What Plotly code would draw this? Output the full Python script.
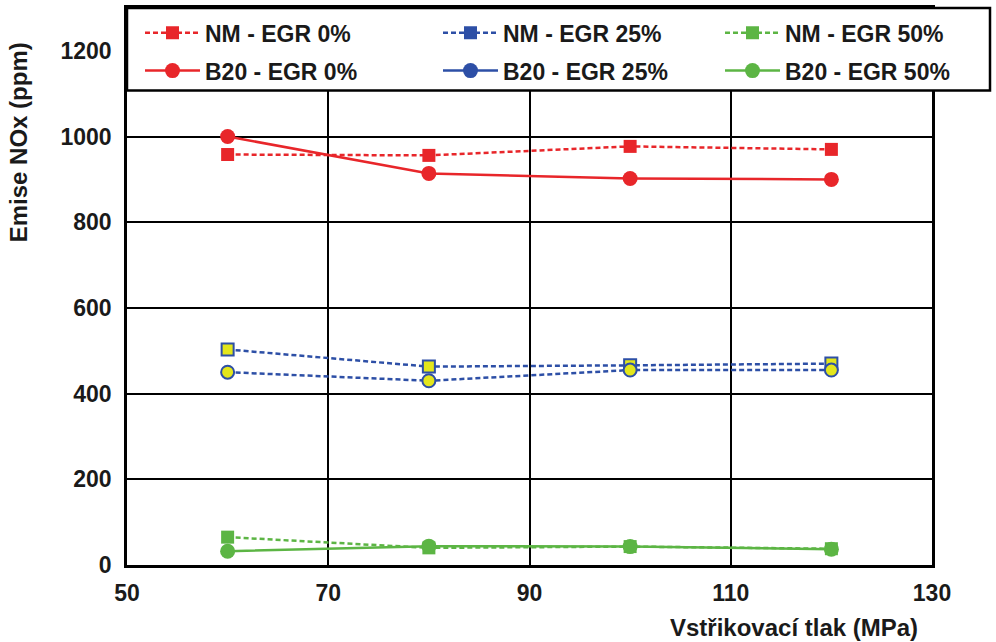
import plotly.graph_objects as go

# ---- data ----
pressure = [60, 80, 100, 120]
nm_egr0 = [958, 956, 977, 970]
b20_egr0 = [1000, 914, 902, 900]
nm_egr25 = [503, 463, 466, 470]
b20_egr25 = [450, 430, 455, 455]
nm_egr50 = [65, 40, 43, 38]
b20_egr50 = [32, 44, 43, 37]

x_ticks = [50, 70, 90, 110, 130]
y_ticks = [0, 200, 400, 600, 800, 1000, 1200]

RED = "#e8262a"
BLUE = "#2d4fa6"
GREEN = "#5cb544"
YEL = "#e3e61c"
FONT = "Liberation Sans, Arial, sans-serif"
TXT = "#1a1a1a"

fig = go.Figure()

# plotted traces
fig.add_trace(go.Scatter(x=pressure, y=nm_egr0, mode="lines+markers", name="NM - EGR 0%",
                         line=dict(color=RED, width=2.5, dash="5px,3px"),
                         marker=dict(symbol="square", size=13, color=RED),
                         legend="legend"))
fig.add_trace(go.Scatter(x=pressure, y=b20_egr0, mode="lines+markers", name="B20 - EGR 0%",
                         line=dict(color=RED, width=2.5),
                         marker=dict(symbol="circle", size=15, color=RED),
                         legend="legend2"))
fig.add_trace(go.Scatter(x=pressure, y=nm_egr25, mode="lines+markers", name="NM - EGR 25%",
                         line=dict(color=BLUE, width=2.5, dash="5px,3px"),
                         marker=dict(symbol="square", size=12, color=YEL,
                                     line=dict(color=BLUE, width=2)),
                         showlegend=False))
fig.add_trace(go.Scatter(x=pressure, y=b20_egr25, mode="lines+markers", name="B20 - EGR 25%",
                         line=dict(color=BLUE, width=2.5, dash="5px,3px"),
                         marker=dict(symbol="circle", size=13, color=YEL,
                                     line=dict(color=BLUE, width=2)),
                         showlegend=False))
fig.add_trace(go.Scatter(x=pressure, y=nm_egr50, mode="lines+markers", name="NM - EGR 50%",
                         line=dict(color=GREEN, width=2.5, dash="5px,3px"),
                         marker=dict(symbol="square", size=13, color=GREEN),
                         legend="legend5"))
fig.add_trace(go.Scatter(x=pressure, y=b20_egr50, mode="lines+markers", name="B20 - EGR 50%",
                         line=dict(color=GREEN, width=2.5),
                         marker=dict(symbol="circle", size=15, color=GREEN),
                         legend="legend6"))

# legend-only entries for the blue series (legend shows filled blue markers)
fig.add_trace(go.Scatter(x=[None], y=[None], mode="lines+markers", name="NM - EGR 25%",
                         line=dict(color=BLUE, width=2.5, dash="5px,3px"),
                         marker=dict(symbol="square", size=13, color=BLUE),
                         legend="legend3"))
fig.add_trace(go.Scatter(x=[None], y=[None], mode="lines+markers", name="B20 - EGR 25%",
                         line=dict(color=BLUE, width=2.5),
                         marker=dict(symbol="circle", size=15, color=BLUE),
                         legend="legend4"))

L, R, T, B = 127, 64, 5, 77
W, H = 996, 642
pw, ph = W - L - R, H - T - B

def px_x(p):
    return (p - L) / pw

def px_y(p):
    return (H - B - p) / ph

legend_common = dict(orientation="v", bgcolor="rgba(0,0,0,0)", borderwidth=0,
                     font=dict(family=FONT, size=23, color=TXT, weight="bold"),
                     itemwidth=55, yanchor="middle", xanchor="left")
row1, row2 = px_y(30), px_y(68)
cols = [px_x(140), px_x(438), px_x(720)]

fig.update_layout(
    width=W, height=H,
    margin=dict(l=L, r=R, t=T, b=B),
    paper_bgcolor="white", plot_bgcolor="white",
    font=dict(family=FONT, color=TXT),
    legend=dict(x=cols[0], y=row1, **legend_common),
    legend2=dict(x=cols[0], y=row2, **legend_common),
    legend3=dict(x=cols[1], y=row1, **legend_common),
    legend4=dict(x=cols[1], y=row2, **legend_common),
    legend5=dict(x=cols[2], y=row1, **legend_common),
    legend6=dict(x=cols[2], y=row2, **legend_common),
    xaxis=dict(range=[50, 130], tickvals=x_ticks, ticktext=[str(v) for v in x_ticks],
               showgrid=True, gridcolor="black", gridwidth=2,
               showline=True, linecolor="black", linewidth=2.5, mirror=True,
               ticks="", zeroline=False, ticklabelstandoff=6,
               tickfont=dict(family=FONT, size=23, color=TXT, weight="bold")),
    yaxis=dict(range=[0, 1300], tickvals=y_ticks, ticktext=[str(v) for v in y_ticks],
               showgrid=True, gridcolor="black", gridwidth=2,
               showline=True, linecolor="black", linewidth=2.5, mirror=True,
               ticks="", zeroline=False, ticklabelstandoff=8,
               tickfont=dict(family=FONT, size=23, color=TXT, weight="bold")),
    shapes=[dict(type="rect", xref="paper", yref="paper",
                 x0=0, x1=px_x(990), y0=px_y(88), y1=1,
                 fillcolor="white", line=dict(color="black", width=2.5), layer="above")],
    annotations=[
        dict(text="<b>Emise NOx (ppm)</b>", xref="paper", yref="paper",
             x=px_x(18), y=px_y(140), textangle=-90, showarrow=False,
             xanchor="center", yanchor="middle",
             font=dict(family=FONT, size=24, color=TXT)),
        dict(text="<b>Vstřikovací tlak (MPa)</b>", xref="paper", yref="paper",
             x=px_x(920), y=px_y(628), showarrow=False,
             xanchor="right", yanchor="middle",
             font=dict(family=FONT, size=24, color=TXT)),
    ],
)

fig.write_html("out.html", config={"displayModeBar": False},
               post_script="document.body.style.margin='0';document.body.style.padding='0';")
